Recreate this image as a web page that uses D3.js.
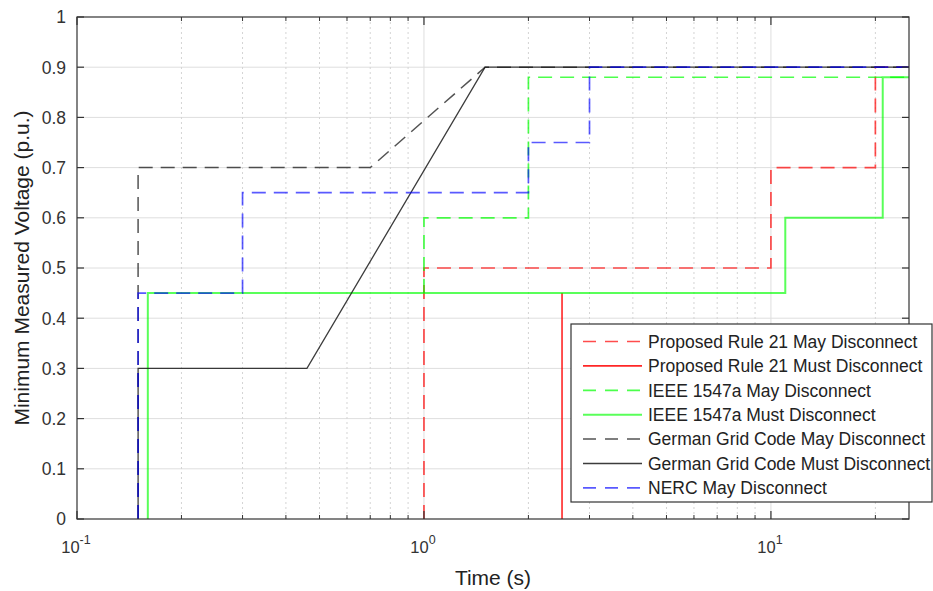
<!DOCTYPE html>
<html>
<head>
<meta charset="utf-8">
<script src="https://cdn.jsdelivr.net/npm/d3@7"></script>
<style>
  html, body { margin: 0; padding: 0; background: #fff; }
  svg { display: block; font-family: "Liberation Sans", Arial, Helvetica, sans-serif; }
</style>
</head>
<body>
<svg id="chart" width="933" height="591"></svg>
<script>
// ---- Data ----
const seriesNames = [
  "Proposed Rule 21 May Disconnect",
  "Proposed Rule 21 Must Disconnect",
  "IEEE 1547a May Disconnect",
  "IEEE 1547a Must Disconnect",
  "German Grid Code May Disconnect",
  "German Grid Code Must Disconnect",
  "NERC May Disconnect"
];
const rule21MayT  = [1, 1, 10, 10, 20, 20, 25];
const rule21MayV  = [0, 0.5, 0.5, 0.7, 0.7, 0.9, 0.9];
const rule21MustT = [2.5, 2.5];
const rule21MustV = [0, 0.45];
const ieeeMayT    = [1, 1, 2, 2, 25];
const ieeeMayV    = [0.45, 0.6, 0.6, 0.88, 0.88];
const ieeeMustT   = [0.16, 0.16, 11, 11, 21, 21, 25];
const ieeeMustV   = [0, 0.45, 0.45, 0.6, 0.6, 0.88, 0.88];
const germanMayT  = [0.15, 0.15, 0.7, 1.5, 25];
const germanMayV  = [0, 0.7, 0.7, 0.9, 0.9];
const germanMustT = [0.15, 0.15, 0.46, 1.5, 25];
const germanMustV = [0, 0.3, 0.3, 0.9, 0.9];
const nercMayT    = [0.15, 0.15, 0.3, 0.3, 2, 2, 3, 3, 25];
const nercMayV    = [0, 0.45, 0.45, 0.65, 0.65, 0.75, 0.75, 0.9, 0.9];

const yTicks = [0, 0.1, 0.2, 0.3, 0.4, 0.5, 0.6, 0.7, 0.8, 0.9, 1];
const yTickLabels = ["0", "0.1", "0.2", "0.3", "0.4", "0.5", "0.6", "0.7", "0.8", "0.9", "1"];
const xMajorTicks = [0.1, 1, 10];
const xMajorExps = ["-1", "0", "1"];
const xMinorTicks = [0.2, 0.3, 0.4, 0.5, 0.6, 0.7, 0.8, 0.9, 2, 3, 4, 5, 6, 7, 8, 9, 20];
const xDomain = [0.1, 25];
const yDomain = [0, 1];

// ---- Styles ----
const styles = [
  { color: "#ff0000", dash: "14,8", w: 1.7, o: 0.7 },
  { color: "#ff0000", dash: null,   w: 1.6, o: 0.85 },
  { color: "#00ff00", dash: "14,8", w: 1.7, o: 0.7 },
  { color: "#00ff00", dash: null,   w: 2.0, o: 0.65 },
  { color: "#1a1a1a", dash: "14,8", w: 1.5, o: 0.75 },
  { color: "#1a1a1a", dash: null,   w: 1.3, o: 0.85 },
  { color: "#0000ff", dash: "14,8", w: 1.7, o: 0.65 }
];
const seriesT = [rule21MayT, rule21MustT, ieeeMayT, ieeeMustT, germanMayT, germanMustT, nercMayT];
const seriesV = [rule21MayV, rule21MustV, ieeeMayV, ieeeMustV, germanMayV, germanMustV, nercMayV];

// ---- Layout ----
const L = 77, R = 909, T = 17, B = 519;
const svg = d3.select("#chart");
const x = d3.scaleLog().domain(xDomain).range([L, R]);
const y = d3.scaleLinear().domain(yDomain).range([B, T]);
const axisColor = "#333333";

// grid
const grid = svg.append("g");
grid.selectAll(".ygrid").data(yTicks.slice(1, -1)).enter().append("line")
  .attr("x1", L).attr("x2", R).attr("y1", d => y(d)).attr("y2", d => y(d))
  .attr("stroke", "#dedede").attr("stroke-width", 1);
grid.selectAll(".xminor").data(xMinorTicks).enter().append("line")
  .attr("x1", d => x(d)).attr("x2", d => x(d)).attr("y1", T).attr("y2", B)
  .attr("stroke", "#d4d4d4").attr("stroke-width", 1).attr("stroke-dasharray", "2,3");
grid.selectAll(".xmajor").data(xMajorTicks.slice(1)).enter().append("line")
  .attr("x1", d => x(d)).attr("x2", d => x(d)).attr("y1", T).attr("y2", B)
  .attr("stroke", "#dedede").attr("stroke-width", 1);

// series
const line = d3.line().x(d => x(d[0])).y(d => y(d[1]));
const plot = svg.append("g");
seriesT.forEach((ts, i) => {
  const pts = ts.map((t, j) => [t, seriesV[i][j]]);
  const p = plot.append("path").datum(pts)
    .attr("d", line).attr("fill", "none")
    .attr("stroke", styles[i].color).attr("stroke-width", styles[i].w)
    .attr("stroke-opacity", styles[i].o);
  if (styles[i].dash) p.attr("stroke-dasharray", styles[i].dash);
});

// axes box & ticks
const ax = svg.append("g");
ax.append("rect").attr("x", L).attr("y", T).attr("width", R - L).attr("height", B - T)
  .attr("fill", "none").attr("stroke", axisColor).attr("stroke-width", 1.2);
yTicks.forEach(v => {
  ax.append("line").attr("x1", L).attr("x2", L + 7).attr("y1", y(v)).attr("y2", y(v))
    .attr("stroke", axisColor).attr("stroke-width", 1.2);
  ax.append("line").attr("x1", R - 7).attr("x2", R).attr("y1", y(v)).attr("y2", y(v))
    .attr("stroke", axisColor).attr("stroke-width", 1.2);
});
xMajorTicks.forEach(v => {
  ax.append("line").attr("x1", x(v)).attr("x2", x(v)).attr("y1", B).attr("y2", B - 8)
    .attr("stroke", axisColor).attr("stroke-width", 1.2);
  ax.append("line").attr("x1", x(v)).attr("x2", x(v)).attr("y1", T).attr("y2", T + 8)
    .attr("stroke", axisColor).attr("stroke-width", 1.2);
});
xMinorTicks.forEach(v => {
  ax.append("line").attr("x1", x(v)).attr("x2", x(v)).attr("y1", B).attr("y2", B - 4)
    .attr("stroke", axisColor).attr("stroke-width", 1);
  ax.append("line").attr("x1", x(v)).attr("x2", x(v)).attr("y1", T).attr("y2", T + 4)
    .attr("stroke", axisColor).attr("stroke-width", 1);
});

// y tick labels
svg.append("g").selectAll("text").data(yTicks).enter().append("text")
  .attr("x", L - 11).attr("y", d => y(d)).attr("dy", "0.36em")
  .attr("text-anchor", "end").attr("font-size", 17.5).attr("fill", axisColor)
  .text((d, i) => yTickLabels[i]);

// x tick labels (10^n)
xMajorTicks.forEach((v, i) => {
  const t = svg.append("text").attr("x", x(v) - 1).attr("y", 553)
    .attr("text-anchor", "middle").attr("fill", axisColor).attr("font-size", 16.5);
  t.append("tspan").text("10");
  t.append("tspan").attr("dy", -9).attr("font-size", 12.5).text(xMajorExps[i]);
});

// axis labels
svg.append("text").attr("x", (L + R) / 2).attr("y", 585)
  .attr("text-anchor", "middle").attr("font-size", 21).attr("fill", "#222")
  .text("Time (s)");
svg.append("text").attr("transform", `translate(29,${(T + B) / 2}) rotate(-90)`)
  .attr("text-anchor", "middle").attr("font-size", 21).attr("fill", "#222")
  .text("Minimum Measured Voltage (p.u.)");

// legend
const lg = svg.append("g");
lg.append("rect").attr("x", 571).attr("y", 324).attr("width", 361).attr("height", 178)
  .attr("fill", "#fff").attr("stroke", axisColor).attr("stroke-width", 1.2);
seriesNames.forEach((name, i) => {
  const cy = 341.5 + i * 24.4;
  const l = lg.append("line").attr("x1", 583).attr("x2", 642).attr("y1", cy).attr("y2", cy)
    .attr("stroke", styles[i].color).attr("stroke-width", styles[i].w)
    .attr("stroke-opacity", styles[i].o);
  if (styles[i].dash) l.attr("stroke-dasharray", "13,9");
  lg.append("text").attr("x", 648).attr("y", cy).attr("dy", "0.36em")
    .attr("font-size", 17.5).attr("fill", "#222").text(name);
});
</script>
</body>
</html>
